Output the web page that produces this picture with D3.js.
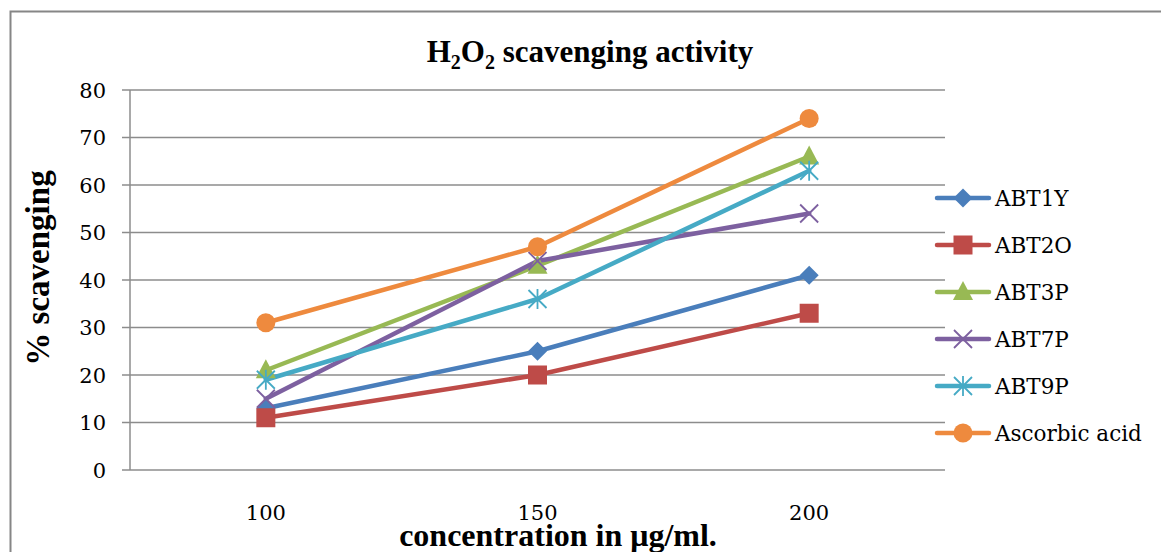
<!DOCTYPE html>
<html><head><meta charset="utf-8">
<script src="https://cdn.jsdelivr.net/npm/d3@7"></script>
<style>body{margin:0;background:#fff}svg{display:block}</style>
</head><body>
<svg id="c" width="1161" height="552"></svg>
<script>
const categories = ["100", "150", "200"];
const seriesNames = ["ABT1Y", "ABT2O", "ABT3P", "ABT7P", "ABT9P", "Ascorbic acid"];
const abt1y = [13, 25, 41];
const abt2o = [11, 20, 33];
const abt3p = [21, 43, 66];
const abt7p = [15, 44, 54];
const abt9p = [19, 36, 63];
const ascorbic = [31, 47, 74];
const yTicks = [0, 10, 20, 30, 40, 50, 60, 70, 80];
const colors = ["#4A7EBB", "#BE4B48", "#98B954", "#7D60A0", "#46AAC5", "#EE8A3E"];
const markers = ["diamond", "square", "triangle", "x", "star", "circle"];
const series = [abt1y, abt2o, abt3p, abt7p, abt9p, ascorbic].map((v, i) => ({name: seriesNames[i], values: v, color: colors[i], marker: markers[i]}));

const svg = d3.select("#c");
const serif = "'DejaVu Serif', serif";
const times = "'Liberation Serif', 'Times New Roman', serif";

// outer border
svg.append("rect").attr("x", 10.5).attr("y", 11.5).attr("width", 1200).attr("height", 600)
  .attr("fill", "none").attr("stroke", "#868686").attr("stroke-width", 2);

const pLeft = 130, pRight = 945, pTop = 90, pBottom = 470;
const x = d3.scaleBand().domain(categories).range([pLeft, pRight]);
const y = d3.scaleLinear().domain([0, 80]).range([pBottom, pTop]);

// gridlines
svg.append("g").selectAll("line").data(yTicks).join("line")
  .attr("x1", pLeft - 8).attr("x2", pRight).attr("y1", d => y(d)).attr("y2", d => y(d))
  .attr("stroke", "#8c8c8c").attr("stroke-width", 1.5);
// y axis
svg.append("line").attr("x1", pLeft).attr("x2", pLeft).attr("y1", pTop).attr("y2", pBottom)
  .attr("stroke", "#8c8c8c").attr("stroke-width", 1.5);

// y tick labels
svg.append("g").selectAll("text").data(yTicks).join("text")
  .attr("x", 106).attr("y", d => y(d)).attr("dy", "0.36em").attr("text-anchor", "end")
  .attr("font-family", serif).attr("font-size", 21).attr("fill", "#000").text(d => d);

// x tick labels
svg.append("g").selectAll("text").data(categories).join("text")
  .attr("x", d => x(d) + x.bandwidth() / 2).attr("y", 520).attr("text-anchor", "middle")
  .attr("font-family", serif).attr("font-size", 21).attr("fill", "#000").text(d => d);

// title
const t = svg.append("text").attr("x", 590).attr("y", 62).attr("text-anchor", "middle")
  .attr("font-family", times).attr("font-weight", "bold").attr("font-size", 31).attr("fill", "#000");
t.append("tspan").text("H");
t.append("tspan").attr("font-size", 20).attr("dy", 7).text("2");
t.append("tspan").attr("dy", -7).text("O");
t.append("tspan").attr("font-size", 20).attr("dy", 7).text("2");
t.append("tspan").attr("dy", -7).text(" scavenging activity");

// axis titles
svg.append("text").attr("transform", "translate(49,268) rotate(-90)").attr("text-anchor", "middle")
  .attr("font-family", times).attr("font-weight", "bold").attr("font-size", 33).text("% scavenging");
svg.append("text").attr("x", 558).attr("y", 546).attr("text-anchor", "middle")
  .attr("font-family", times).attr("font-weight", "bold").attr("font-size", 32).text("concentration in μg/ml.");

function drawMarker(g, type, color) {
  if (type === "diamond") g.append("path").attr("d", "M0,-9.5L9.5,0L0,9.5L-9.5,0Z").attr("fill", color);
  else if (type === "square") g.append("rect").attr("x", -9.5).attr("y", -9.5).attr("width", 19).attr("height", 19).attr("fill", color);
  else if (type === "triangle") g.append("path").attr("d", "M0,-11L10,8L-10,8Z").attr("fill", color);
  else if (type === "circle") g.append("circle").attr("r", 9.5).attr("fill", color);
  else if (type === "x") g.append("path").attr("d", "M-9,-9L9,9M-9,9L9,-9").attr("stroke", color).attr("stroke-width", 1.8).attr("fill", "none");
  else if (type === "star") g.append("path").attr("d", "M-9,-9L9,9M-9,9L9,-9M0,-10L0,10").attr("stroke", color).attr("stroke-width", 1.8).attr("fill", "none");
}

const line = d3.line().x((d, i) => x(categories[i]) + x.bandwidth() / 2).y(d => y(d));
series.forEach(s => {
  svg.append("path").datum(s.values).attr("d", line).attr("fill", "none")
    .attr("stroke", s.color).attr("stroke-width", 4.5).attr("stroke-linejoin", "round").attr("stroke-linecap", "round");
});
series.forEach(s => {
  s.values.forEach((v, i) => {
    const g = svg.append("g").attr("transform", `translate(${x(categories[i]) + x.bandwidth() / 2},${y(v)})`);
    drawMarker(g, s.marker, s.color);
  });
});

// legend
const ly = d3.scalePoint().domain(seriesNames).range([198, 433]);
series.forEach(s => {
  const g = svg.append("g").attr("transform", `translate(0,${ly(s.name)})`);
  g.append("line").attr("x1", 937).attr("x2", 989).attr("stroke", s.color).attr("stroke-width", 4.5).attr("stroke-linecap", "round");
  const m = g.append("g").attr("transform", "translate(963,0)");
  drawMarker(m, s.marker, s.color);
  g.append("text").attr("x", 995).attr("dy", "0.36em").attr("font-family", serif).attr("font-size", 21.5).text(s.name);
});
</script>
</body></html>
